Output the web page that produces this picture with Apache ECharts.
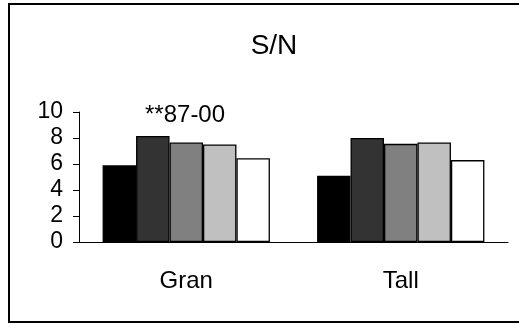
<!DOCTYPE html>
<html>
<head>
<meta charset="utf-8">
<script src="https://cdn.jsdelivr.net/npm/echarts@6/dist/echarts.min.js"></script>
<style>
html, body { margin: 0; padding: 0; background: #fff; }
#main { width: 519px; height: 324px; }
</style>
</head>
<body>
<div id="main"></div>
<script>
// categories and series
var categories = ['Gran', 'Tall'];
var s1 = [5.9, 5.1];
var s2 = [8.15, 8.0];
var s3 = [7.65, 7.55];
var s4 = [7.5, 7.65];
var s5 = [6.45, 6.3];
var yTicks = [0, 2, 4, 6, 8, 10];
var barColors = ['#000000', '#333333', '#808080', '#c0c0c0', '#ffffff'];

var font = 'Liberation Sans, Arial, sans-serif';
var chart = echarts.init(document.getElementById('main'));

function bar(data, i) {
    return {
        type: 'bar',
        data: data,
        barGap: '0%',
        barCategoryGap: '22%',
        itemStyle: { color: barColors[i], borderColor: '#000', borderWidth: 1.3 },
        silent: true
    };
}

chart.setOption({
    animation: false,
    title: {
        text: 'S/N',
        left: 269,
        top: 27,
        textAlign: 'center',
        textStyle: { fontFamily: font, fontSize: 28, fontWeight: 'normal', color: '#000' }
    },
    graphic: [
        {
            type: 'rect',
            shape: { x: 9, y: 4, width: 520, height: 318 },
            style: { fill: 'none', stroke: '#000', lineWidth: 2 }
        },
        {
            type: 'text',
            left: 145,
            top: 103,
            style: { text: '**87-00', fontFamily: font, fontSize: 24, fill: '#000' }
        }
    ],
    grid: { left: 79, right: 11, top: 112, bottom: 82 },
    xAxis: {
        type: 'category',
        data: categories,
        axisLine: { lineStyle: { color: '#000', width: 1 } },
        axisTick: { length: 8, lineStyle: { color: '#000' } },
        axisLabel: { fontFamily: font, fontSize: 24, color: '#000', margin: 27 }
    },
    yAxis: {
        type: 'value',
        min: yTicks[0],
        max: yTicks[yTicks.length - 1],
        interval: 2,
        axisLine: { show: true, lineStyle: { color: '#000', width: 1 } },
        axisTick: { show: true, length: 6, lineStyle: { color: '#000' } },
        splitLine: { show: false },
        axisLabel: { fontFamily: font, fontSize: 23, color: '#000', margin: 16 }
    },
    series: [bar(s1, 0), bar(s2, 1), bar(s3, 2), bar(s4, 3), bar(s5, 4)]
});
</script>
</body>
</html>
